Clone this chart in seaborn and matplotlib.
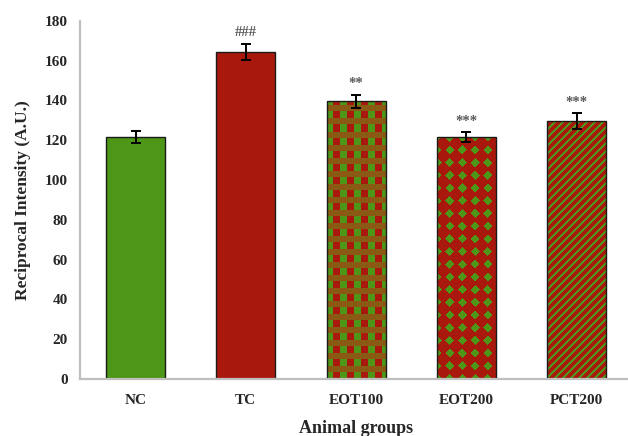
import numpy as np
import pandas as pd
import matplotlib
matplotlib.use("Agg")
import matplotlib.pyplot as plt
import seaborn as sns

# ---- data ----
groups = ["NC", "TC", "EOT100", "EOT200", "PCT200"]
means = [121.5, 164.5, 139.5, 121.5, 129.5]
errors = [3.0, 4.0, 3.5, 2.5, 4.0]
marks = ["", "###", "**", "***", "***"]
yticks = [0, 20, 40, 60, 80, 100, 120, 140, 160, 180]

RED = "#A8180C"
GREEN = "#4E9617"
BROWN = "#8A5A14"

sns.set_theme(style="white")
plt.rcParams["font.family"] = ["Liberation Serif", "DejaVu Serif"]

W, H, DPI = 6.28, 4.36, 100
fig = plt.figure(figsize=(W, H), dpi=DPI)
left, right, bottom, top = 0.128, 1.006, 0.131, 0.952
ax = fig.add_axes([left, bottom, right - left, top - bottom])

df = pd.DataFrame({"group": groups, "value": means})
palette = [GREEN, RED, RED, RED, RED]
sns.barplot(data=df, x="group", y="value", hue="group", palette=palette,
            legend=False, errorbar=None, width=0.535, ax=ax,
            edgecolor="#1a1a1a", linewidth=1.0, saturation=1)

xpos = np.arange(len(groups))
ax.errorbar(xpos, means, yerr=errors, fmt="none", ecolor="black",
            elinewidth=1.4, capsize=3.8, capthick=1.4, zorder=5)

# ---- textures (pixel-space patterns) ----
aw = int(round(W * DPI * (right - left)))
ah = int(round(H * DPI * (top - bottom)))
yy, xx = np.mgrid[0:ah, 0:aw]

def rgb(h):
    return np.array(matplotlib.colors.to_rgb(h))

def plaid():
    img = np.empty((ah, aw, 3))
    img[:] = rgb(BROWN)
    rowin = (yy % 13) < 7
    col = (xx // 7) % 2
    img[rowin & (col == 0)] = rgb(RED)
    img[rowin & (col == 1)] = rgb(GREEN)
    return img

def diamonds():
    img = np.empty((ah, aw, 3))
    img[:] = rgb(RED)
    p = 12.7
    dx = np.abs(((xx + p / 2) % p) - p / 2)
    dy = np.abs(((yy + p / 2) % p) - p / 2)
    img[(dx + dy) <= 4.6] = rgb(GREEN)
    return img

def stripes():
    img = np.empty((ah, aw, 3))
    img[:] = rgb(RED)
    p = 8.0
    img[((xx - yy) % p) < 3.0] = rgb(GREEN)
    return img

textures = [None, None, plaid(), diamonds(), stripes()]
bars = list(ax.patches)
for bar, tex in zip(bars, textures):
    if tex is None:
        continue
    im = ax.imshow(tex, extent=(0, 1, 0, 1), origin="lower",
                   transform=ax.transAxes, interpolation="nearest",
                   aspect="auto", zorder=bar.get_zorder() - 0.1)
    im.set_clip_path(bar)
    bar.set_facecolor("none")

# significance marks
for x, m, e, lab in zip(xpos, means, errors, marks):
    if lab:
        ax.annotate(lab, (x, m + e), xytext=(0, 5.5), textcoords="offset points",
                    ha="center", va="baseline", fontsize=10.5,
                    fontweight="bold", color="#595959")

ax.set_xlim(-0.5, 4.5)
ax.set_ylim(0, 180)
ax.set_yticks(yticks)
ax.set_yticklabels([str(t) for t in yticks])
ax.tick_params(axis="both", length=0, labelsize=11)
ax.tick_params(axis="y", pad=9)
ax.tick_params(axis="x", pad=11)
for lbl in ax.get_xticklabels() + ax.get_yticklabels():
    lbl.set_fontweight("bold")

for s in ["top", "right"]:
    ax.spines[s].set_visible(False)
for s in ["left", "bottom"]:
    ax.spines[s].set_color("#BFBFBF")
    ax.spines[s].set_linewidth(1.6)

ax.set_xlabel("Animal groups", fontsize=13, fontweight="bold", labelpad=9)
ax.set_ylabel("Reciprocal Intensity (A.U.)", fontsize=12.5, fontweight="bold",
              labelpad=10)
ax.grid(False)

fig.savefig("out.png", dpi=DPI)
